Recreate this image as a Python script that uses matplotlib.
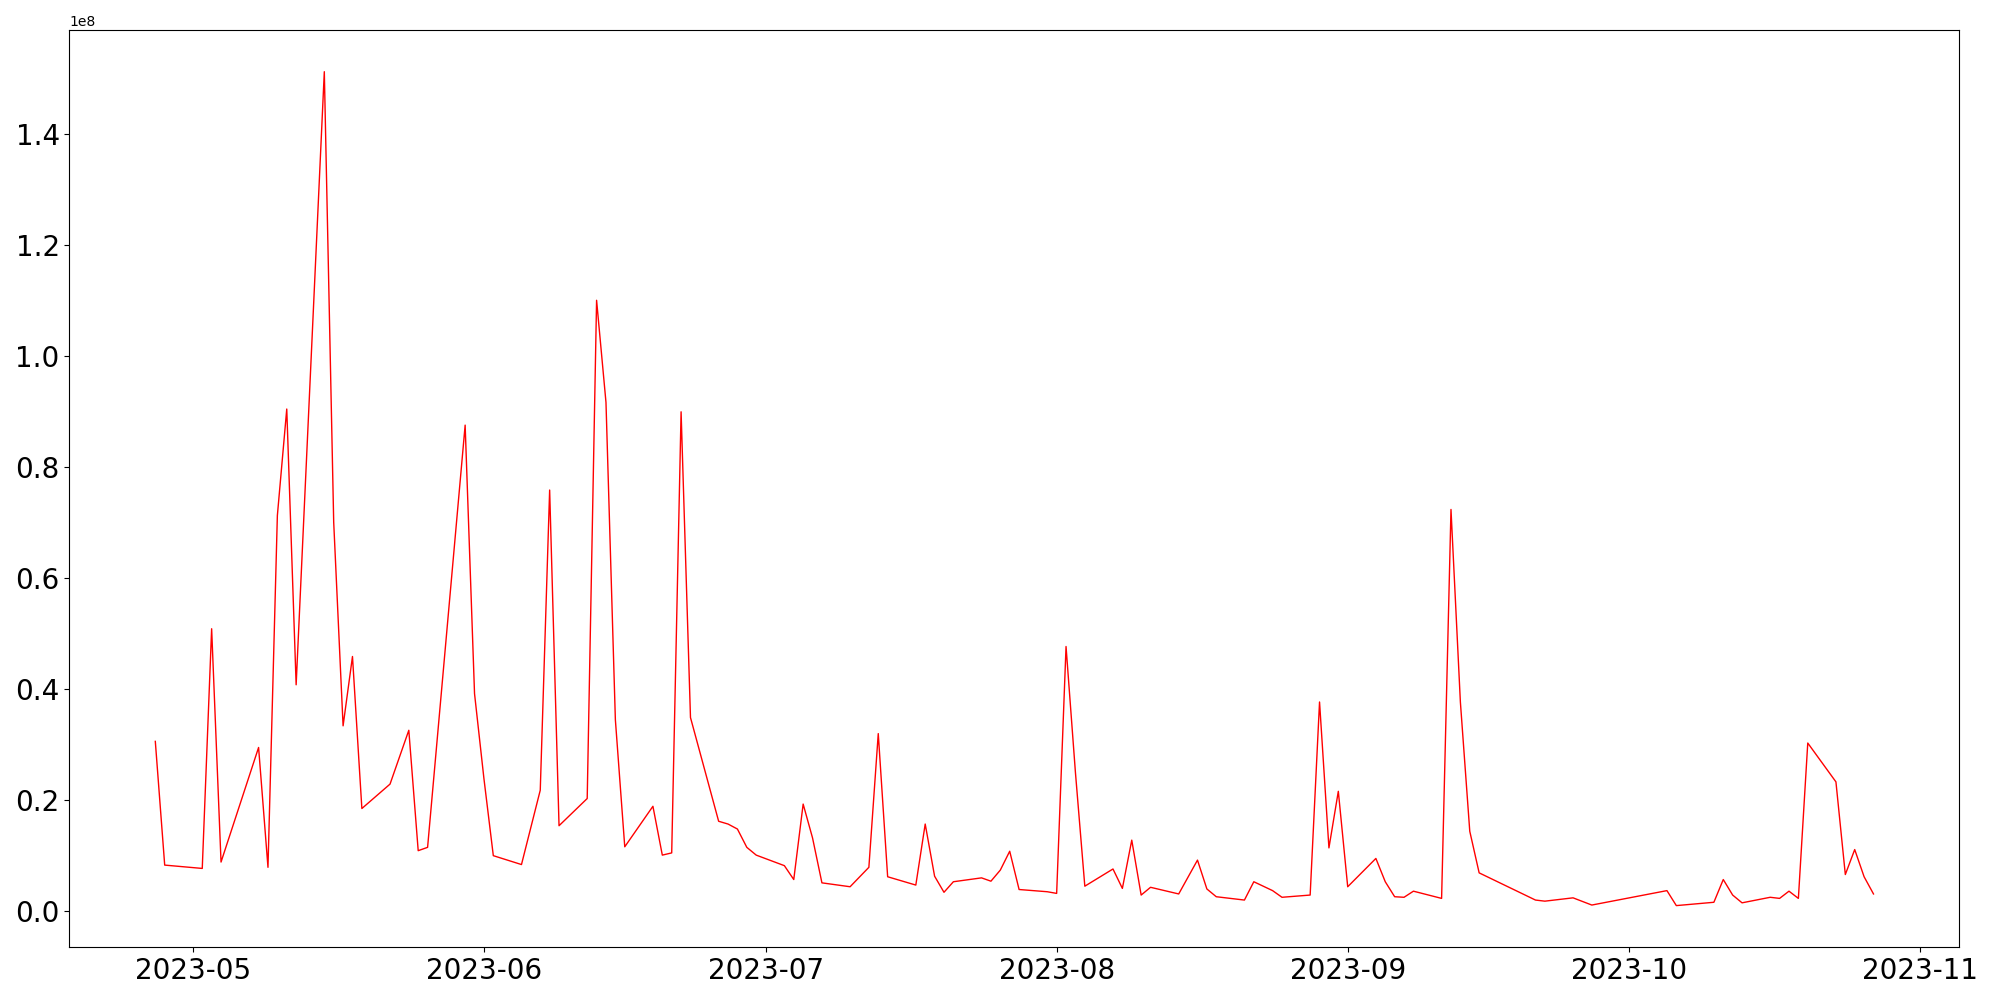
import pandas as pd
import matplotlib
matplotlib.use("Agg")
import matplotlib.pyplot as plt

#####################################################################

dates = ['2023-04-27', '2023-04-28', '2023-05-02', '2023-05-03', '2023-05-04',
         '2023-05-08', '2023-05-09', '2023-05-10', '2023-05-11', '2023-05-12',
         '2023-05-15', '2023-05-16', '2023-05-17', '2023-05-18', '2023-05-19',
         '2023-05-22', '2023-05-24', '2023-05-25', '2023-05-26', '2023-05-30',
         '2023-05-31', '2023-06-01', '2023-06-02', '2023-06-05', '2023-06-07',
         '2023-06-08', '2023-06-09', '2023-06-12', '2023-06-13', '2023-06-14',
         '2023-06-15', '2023-06-16', '2023-06-19', '2023-06-20', '2023-06-21',
         '2023-06-22', '2023-06-23', '2023-06-26', '2023-06-27', '2023-06-28',
         '2023-06-29', '2023-06-30', '2023-07-03', '2023-07-04', '2023-07-05',
         '2023-07-06', '2023-07-07', '2023-07-10', '2023-07-12', '2023-07-13',
         '2023-07-14', '2023-07-17', '2023-07-18', '2023-07-19', '2023-07-20',
         '2023-07-21', '2023-07-24', '2023-07-25', '2023-07-26', '2023-07-27',
         '2023-07-28', '2023-07-31', '2023-08-01', '2023-08-02', '2023-08-03',
         '2023-08-04', '2023-08-07', '2023-08-08', '2023-08-09', '2023-08-10',
         '2023-08-11', '2023-08-14', '2023-08-16', '2023-08-17', '2023-08-18',
         '2023-08-21', '2023-08-22', '2023-08-23', '2023-08-24', '2023-08-25',
         '2023-08-28', '2023-08-29', '2023-08-30', '2023-08-31', '2023-09-01',
         '2023-09-04', '2023-09-05', '2023-09-06', '2023-09-07', '2023-09-08',
         '2023-09-11', '2023-09-12', '2023-09-13', '2023-09-14', '2023-09-15',
         '2023-09-21', '2023-09-22', '2023-09-25', '2023-09-27', '2023-10-05',
         '2023-10-06', '2023-10-10', '2023-10-11', '2023-10-12', '2023-10-13',
         '2023-10-16', '2023-10-17', '2023-10-18', '2023-10-19', '2023-10-20',
         '2023-10-23', '2023-10-24', '2023-10-25', '2023-10-26', '2023-10-27']

# values in units of 1e8
volume = [0.306, 0.083, 0.077, 0.509, 0.0885,
          0.295, 0.079, 0.713, 0.905, 0.408,
          1.513, 0.701, 0.334, 0.459, 0.185,
          0.229, 0.326, 0.109, 0.115, 0.876,
          0.392, 0.239, 0.100, 0.084, 0.218,
          0.759, 0.154, 0.203, 1.101, 0.917,
          0.345, 0.116, 0.189, 0.101, 0.105,
          0.900, 0.349, 0.162, 0.157, 0.148,
          0.115, 0.101, 0.082, 0.057, 0.193,
          0.132, 0.051, 0.044, 0.079, 0.320,
          0.062, 0.047, 0.157, 0.063, 0.034,
          0.053, 0.060, 0.054, 0.074, 0.108,
          0.039, 0.035, 0.032, 0.477, 0.25,
          0.045, 0.076, 0.041, 0.128, 0.029,
          0.043, 0.031, 0.092, 0.040, 0.026,
          0.020, 0.053, 0.045, 0.037, 0.025,
          0.029, 0.377, 0.114, 0.216, 0.044,
          0.095, 0.053, 0.026, 0.025, 0.036,
          0.023, 0.724, 0.377, 0.144, 0.069,
          0.020, 0.018, 0.024, 0.011, 0.037,
          0.010, 0.016, 0.057, 0.029, 0.015,
          0.025, 0.023, 0.036, 0.023, 0.303,
          0.233, 0.066, 0.111, 0.062, 0.031]

#####################################################################

df = pd.DataFrame({'Date': pd.to_datetime(dates), 'Volume': [v * 1e8 for v in volume]})

fig = plt.figure(figsize=(20, 10), dpi=100)
plt.plot(df['Date'], df['Volume'], color='red', linewidth=1)
plt.xticks(fontsize=20)
plt.yticks(fontsize=20)
plt.subplots_adjust(left=0.0347, right=0.9797, top=0.970, bottom=0.0527)
plt.savefig("out.png")
